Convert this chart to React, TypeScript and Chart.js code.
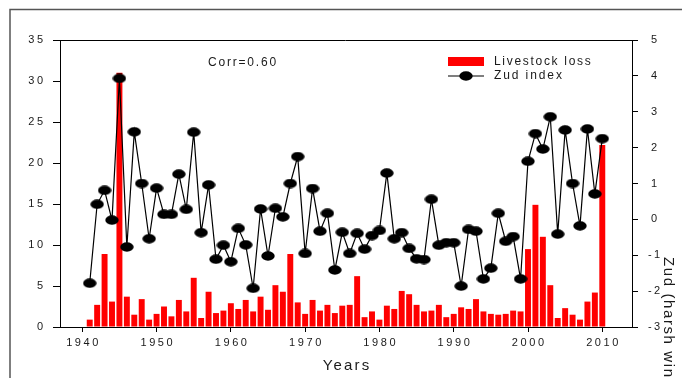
import React, { useEffect, useRef } from "react";
import { Chart, registerables } from "chart.js";

Chart.register(...registerables);

const YEARS = [
  1941, 1942, 1943, 1944, 1945, 1946, 1947, 1948, 1949, 1950,
  1951, 1952, 1953, 1954, 1955, 1956, 1957, 1958, 1959, 1960,
  1961, 1962, 1963, 1964, 1965, 1966, 1967, 1968, 1969, 1970,
  1971, 1972, 1973, 1974, 1975, 1976, 1977, 1978, 1979, 1980,
  1981, 1982, 1983, 1984, 1985, 1986, 1987, 1988, 1989, 1990,
  1991, 1992, 1993, 1994, 1995, 1996, 1997, 1998, 1999, 2000,
  2001, 2002, 2003, 2004, 2005, 2006, 2007, 2008, 2009, 2010,
];

const LIVESTOCK_LOSS = [
  0.9, 2.7, 8.9, 3.1, 31.0, 3.7, 1.5, 3.4, 0.9, 1.6,
  2.5, 1.3, 3.3, 1.9, 6.0, 1.1, 4.3, 1.7, 2.0, 2.9,
  2.2, 3.3, 1.9, 3.7, 2.1, 5.1, 4.3, 8.9, 3.0, 1.6,
  3.3, 2.0, 2.7, 1.7, 2.6, 2.7, 6.2, 1.2, 1.9, 0.9,
  2.6, 2.2, 4.4, 4.0, 2.7, 1.9, 2.0, 2.7, 1.2, 1.6,
  2.4, 2.2, 3.4, 1.9, 1.6, 1.5, 1.6, 2.0, 1.9, 9.5,
  14.9, 11.0, 5.1, 1.1, 2.3, 1.5, 0.9, 3.1, 4.2, 22.2,
];

const ZUD_INDEX = [
  -1.78, 0.42, 0.81, -0.02, 3.93, -0.77, 2.44, 1.0, -0.54, 0.87,
  0.14, 0.14, 1.26, 0.28, 2.43, -0.37, 0.96, -1.11, -0.72, -1.18,
  -0.25, -0.71, -1.92, 0.29, -1.02, 0.31, 0.07, 1.0, 1.75, -0.95,
  0.86, -0.33, 0.17, -1.41, -0.36, -0.95, -0.39, -0.83, -0.45, -0.31,
  1.29, -0.54, -0.37, -0.81, -1.1, -1.12, 0.56, -0.72, -0.65, -0.65,
  -1.86, -0.28, -0.33, -1.66, -1.36, 0.17, -0.61, -0.48, -1.66, 1.62,
  2.39, 1.96, 2.86, -0.41, 2.49, 1.0, -0.18, 2.52, 0.71, 2.25,
];

const X_TICKS = [1940, 1950, 1960, 1970, 1980, 1990, 2000, 2010];
const LEFT_TICKS = [0, 5, 10, 15, 20, 25, 30, 35];
const RIGHT_TICKS = [-3, -2, -1, 0, 1, 2, 3, 4, 5];

const SERIES_BAR = "Livestock loss";
const SERIES_LINE = "Zud index";
const X_TITLE = "Years";
const Y2_TITLE = "Zud (harsh winter)";
const CORR_TEXT = "Corr=0.60";

const FONT = "'Liberation Sans', Arial, sans-serif";
const TEXT_COLOR = "#1a1a1a";

function makeMarker(): HTMLCanvasElement {
  const c = document.createElement("canvas");
  c.width = 14;
  c.height = 10;
  const g = c.getContext("2d")!;
  g.fillStyle = "#000";
  g.beginPath();
  g.ellipse(7, 5, 6.7, 4.7, 0, 0, Math.PI * 2);
  g.fill();
  return c;
}

function spacedText(
  ctx: CanvasRenderingContext2D,
  text: string,
  x: number,
  y: number,
  align: "left" | "center" | "right",
  spacing: number,
  font: string
) {
  ctx.save();
  ctx.font = font;
  ctx.fillStyle = TEXT_COLOR;
  ctx.textBaseline = "middle";
  (ctx as any).letterSpacing = spacing + "px";
  const w = ctx.measureText(text).width - spacing;
  let left = x;
  if (align === "center") left = x - w / 2;
  else if (align === "right") left = x - w;
  ctx.textAlign = "left";
  ctx.fillText(text, left, y);
  ctx.restore();
}

export default function App() {
  const ref = useRef<HTMLCanvasElement | null>(null);

  useEffect(() => {
    const canvas = ref.current;
    if (!canvas) return;
    const marker = makeMarker();

    const decor = {
      id: "decor",
      beforeDraw(chart: any) {
        const ctx = chart.ctx as CanvasRenderingContext2D;
        ctx.save();
        ctx.strokeStyle = "#555";
        ctx.lineWidth = 1.5;
        ctx.beginPath();
        ctx.moveTo(10, 378);
        ctx.lineTo(10, 9.5);
        ctx.lineTo(682, 9.5);
        ctx.stroke();
        ctx.restore();
      },
      afterDraw(chart: any) {
        const ctx = chart.ctx as CanvasRenderingContext2D;
        const a = chart.chartArea;
        const sx = chart.scales.x;
        const sy = chart.scales.y;
        const sy1 = chart.scales.y1;
        // top border of plot box
        ctx.save();
        ctx.strokeStyle = "#000";
        ctx.lineWidth = 1;
        ctx.beginPath();
        ctx.moveTo(Math.floor(a.left) - 7, Math.floor(a.top) + 0.5);
        ctx.lineTo(Math.floor(a.right) + 6, Math.floor(a.top) + 0.5);
        ctx.stroke();
        ctx.restore();

        const tickFont = `11px ${FONT}`;
        for (const v of LEFT_TICKS) {
          spacedText(ctx, String(v), a.left - 17, sy.getPixelForValue(v), "right", 2.4, tickFont);
        }
        for (const v of RIGHT_TICKS) {
          spacedText(ctx, String(v), a.right + 22, sy1.getPixelForValue(v), "center", 2.4, tickFont);
        }
        for (const v of X_TICKS) {
          spacedText(ctx, String(v), sx.getPixelForValue(v), 343, "center", 2.6, tickFont);
        }
        spacedText(ctx, X_TITLE, (a.left + a.right) / 2, 366, "center", 2.2, `15px ${FONT}`);

        // right axis title, rotated
        ctx.save();
        ctx.translate(668, 257);
        ctx.rotate(Math.PI / 2);
        spacedText(ctx, Y2_TITLE, 0, 0, "left", 1.6, `15px ${FONT}`);
        ctx.restore();

        // corr text
        spacedText(ctx, CORR_TEXT, 208, 63, "left", 1.8, `12px ${FONT}`);

        // legend
        ctx.save();
        ctx.fillStyle = "#ff0000";
        ctx.fillRect(448, 57, 36, 9);
        ctx.strokeStyle = "#000";
        ctx.lineWidth = 1.2;
        ctx.beginPath();
        ctx.moveTo(448, 76);
        ctx.lineTo(484, 76);
        ctx.stroke();
        ctx.drawImage(marker, 466 - 7, 76 - 5);
        ctx.restore();
        spacedText(ctx, SERIES_BAR, 494, 61.5, "left", 1.7, `12px ${FONT}`);
        spacedText(ctx, SERIES_LINE, 494, 76, "left", 1.9, `12px ${FONT}`);
      },
    };

    const chart = new Chart(canvas, {
      type: "bar",
      data: {
        datasets: [
          {
            type: "line",
            label: SERIES_LINE,
            data: YEARS.map((yr, i) => ({ x: yr, y: ZUD_INDEX[i] })),
            yAxisID: "y1",
            borderColor: "#000",
            borderWidth: 1.2,
            pointStyle: marker as any,
            pointRadius: 5,
            tension: 0,
            order: 0,
          } as any,
          {
            type: "bar",
            label: SERIES_BAR,
            data: YEARS.map((yr, i) => ({ x: yr, y: LIVESTOCK_LOSS[i] })),
            yAxisID: "y",
            backgroundColor: "#ff0000",
            borderWidth: 0,
            categoryPercentage: 1,
            barPercentage: 0.8,
            order: 1,
          } as any,
        ],
      },
      options: {
        animation: false,
        responsive: false,
        devicePixelRatio: 1,
        layout: { padding: { top: 40, left: 0, right: 0, bottom: 0 } },
        plugins: {
          legend: { display: false },
          tooltip: { enabled: false },
          title: { display: false },
        },
        scales: {
          x: {
            type: "linear",
            min: 1937,
            max: 2014,
            offset: false,
            afterBuildTicks: (s: any) => {
              s.ticks = X_TICKS.map((v) => ({ value: v }));
            },
            afterFit: (s: any) => {
              s.height = 51;
            },
            ticks: { display: false },
            grid: {
              drawOnChartArea: false,
              drawTicks: true,
              tickLength: 5,
              color: "#000",
              offset: false,
            },
            border: { display: true, color: "#000", width: 1 },
          },
          y: {
            type: "linear",
            position: "left",
            min: 0,
            max: 35,
            afterBuildTicks: (s: any) => {
              s.ticks = LEFT_TICKS.map((v) => ({ value: v }));
            },
            afterFit: (s: any) => {
              s.width = 60;
            },
            ticks: { display: false },
            grid: { drawOnChartArea: false, drawTicks: true, tickLength: 7, color: "#000" },
            border: { display: true, color: "#000", width: 1 },
          },
          y1: {
            type: "linear",
            position: "right",
            min: -3,
            max: 5,
            afterBuildTicks: (s: any) => {
              s.ticks = RIGHT_TICKS.map((v) => ({ value: v }));
            },
            afterFit: (s: any) => {
              s.width = 50;
            },
            ticks: { display: false },
            grid: { drawOnChartArea: false, drawTicks: true, tickLength: 6, color: "#000" },
            border: { display: true, color: "#000", width: 1 },
          },
        },
      } as any,
      plugins: [decor],
    });

    return () => chart.destroy();
  }, []);

  return (
    <div style={{ position: "absolute", left: 0, top: 0, width: 682, height: 378, background: "#fff" }}>
      <canvas ref={ref} width={682} height={378} style={{ display: "block" }} />
    </div>
  );
}
